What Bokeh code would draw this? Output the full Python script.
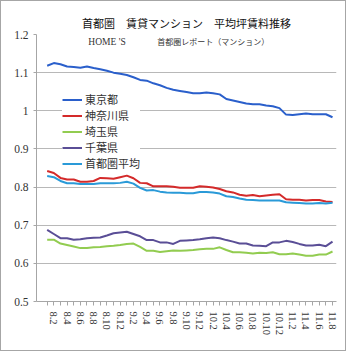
from bokeh.plotting import figure
from bokeh.models import (Range1d, FixedTicker, NumeralTickFormatter, Legend, LegendItem,
                          Label, Title)
from bokeh.embed import file_html
from bokeh.resources import INLINE

months = ["8.1", "8.2", "8.3", "8.4", "8.5", "8.6", "8.7", "8.8", "8.9", "8.10", "8.11", "8.12",
          "9.1", "9.2", "9.3", "9.4", "9.5", "9.6", "9.7", "9.8", "9.9", "9.10", "9.11", "9.12",
          "10.1", "10.2", "10.3", "10.4", "10.5", "10.6", "10.7", "10.8", "10.9", "10.10", "10.11", "10.12",
          "11.1", "11.2", "11.3", "11.4", "11.5", "11.6", "11.7", "11.8"]

tokyo = [1.118, 1.125, 1.122, 1.116, 1.115, 1.113, 1.116, 1.112, 1.109, 1.105,
         1.100, 1.097, 1.094, 1.088, 1.081, 1.079, 1.072, 1.067, 1.060, 1.055,
         1.052, 1.049, 1.046, 1.046, 1.048, 1.046, 1.043, 1.031, 1.027, 1.023,
         1.019, 1.017, 1.017, 1.014, 1.012, 1.007, 0.990, 0.989, 0.991, 0.993,
         0.991, 0.991, 0.991, 0.983]
kanagawa = [0.842, 0.837, 0.824, 0.820, 0.820, 0.814, 0.814, 0.816, 0.824, 0.823,
            0.822, 0.826, 0.830, 0.823, 0.811, 0.810, 0.802, 0.802, 0.802, 0.801,
            0.798, 0.798, 0.798, 0.802, 0.801, 0.799, 0.795, 0.789, 0.786, 0.780,
            0.777, 0.779, 0.776, 0.778, 0.780, 0.781, 0.768, 0.767, 0.767, 0.765,
            0.766, 0.766, 0.762, 0.761]
saitama = [0.662, 0.662, 0.652, 0.648, 0.644, 0.640, 0.640, 0.642, 0.643, 0.645,
           0.646, 0.648, 0.651, 0.652, 0.643, 0.633, 0.633, 0.630, 0.632, 0.634,
           0.633, 0.634, 0.635, 0.637, 0.638, 0.638, 0.642, 0.635, 0.629, 0.629,
           0.628, 0.626, 0.628, 0.627, 0.629, 0.624, 0.624, 0.626, 0.623, 0.620,
           0.620, 0.623, 0.623, 0.631]
chiba = [0.688, 0.677, 0.666, 0.666, 0.662, 0.663, 0.666, 0.667, 0.668, 0.673,
         0.679, 0.681, 0.683, 0.677, 0.671, 0.661, 0.661, 0.655, 0.655, 0.651,
         0.659, 0.660, 0.661, 0.663, 0.666, 0.668, 0.666, 0.661, 0.657, 0.652,
         0.652, 0.647, 0.646, 0.645, 0.655, 0.655, 0.659, 0.656, 0.651, 0.647,
         0.647, 0.649, 0.645, 0.657]
average = [0.829, 0.826, 0.816, 0.810, 0.810, 0.808, 0.808, 0.808, 0.810, 0.810,
           0.810, 0.811, 0.814, 0.809, 0.798, 0.791, 0.792, 0.788, 0.786, 0.785,
           0.785, 0.784, 0.784, 0.787, 0.787, 0.786, 0.783, 0.776, 0.774, 0.770,
           0.767, 0.766, 0.765, 0.765, 0.765, 0.765, 0.760, 0.759, 0.758, 0.757,
           0.757, 0.758, 0.757, 0.759]

series_names = ["東京都", "神奈川県", "埼玉県", "千葉県", "首都圏平均"]
series_values = [tokyo, kanagawa, saitama, chiba, average]
series_colors = ["#2a5fcb", "#d42a2a", "#92cc50", "#5a4e96", "#2a9ad8"]
y_ticks = [0.5, 0.6, 0.7, 0.8, 0.9, 1.0, 1.1, 1.2]

xs = list(range(len(months)))

p = figure(width=346, height=351, output_backend="svg", toolbar_location=None,
           x_range=Range1d(-1.61, 43.6), y_range=Range1d(0.5, 1.2),
           min_border_left=35, min_border_right=11, min_border_top=33, min_border_bottom=51)
p.styles = {"border": "1px solid #a6a6a6"}
p.outline_line_color = None
p.background_fill_color = "white"
p.border_fill_color = "white"

p.add_layout(Title(text="首都圏　賃貸マンション　平均坪賃料推移", align="center",
                   text_font="Noto Sans CJK JP", text_font_size="11px",
                   text_font_style="normal", text_color="#111111", standoff=8), "above")

renderers = []
for name, vals, col in zip(series_names, series_values, series_colors):
    r = p.line(xs, vals, line_color=col, line_width=2)
    renderers.append((name, r))

legend = Legend(items=[LegendItem(label=n, renderers=[r]) for n, r in renderers],
                location=(26, 130), orientation="vertical")
legend.label_text_font = "Noto Sans CJK JP"
legend.label_text_font_size = "11px"
legend.label_text_color = "#333333"
legend.glyph_width = 20
legend.glyph_height = 15
legend.label_height = 15
legend.spacing = 0
legend.padding = 8
legend.margin = 0
legend.label_standoff = 3
legend.border_line_color = None
legend.background_fill_color = "white"
legend.background_fill_alpha = 1.0
p.add_layout(legend, "center")

# y axis
p.yaxis.ticker = FixedTicker(ticks=y_ticks)
p.yaxis.formatter = NumeralTickFormatter(format="0.[0]")
p.yaxis.major_label_text_font = "Liberation Serif"
p.yaxis.major_label_text_font_size = "11.5px"
p.yaxis.major_label_text_color = "#333333"
p.yaxis.axis_line_color = "#a6a6a6"
p.yaxis.major_tick_line_color = "#a6a6a6"
p.yaxis.major_tick_out = 3
p.yaxis.major_tick_in = 0
p.yaxis.minor_tick_line_color = None
p.yaxis.major_label_standoff = 5

# x axis
p.xaxis.ticker = FixedTicker(ticks=xs)
p.xaxis.major_label_overrides = {i: (m if i % 2 == 1 else "") for i, m in enumerate(months)}
p.xaxis.major_label_orientation = "vertical"
p.xaxis.major_label_text_font = "Liberation Serif"
p.xaxis.major_label_text_font_size = "10.5px"
p.xaxis.major_label_text_color = "#333333"
p.xaxis.axis_line_color = "#a6a6a6"
p.xaxis.major_tick_line_color = "#a6a6a6"
p.xaxis.major_tick_out = 4
p.xaxis.major_tick_in = 0
p.xaxis.minor_tick_line_color = None
p.xaxis.major_label_standoff = 6

p.xgrid.grid_line_color = None
p.ygrid.grid_line_color = "#b8b8b8"
p.ygrid.grid_line_width = 1

p.add_layout(Label(x=6.2, y=1.181, text="HOME 'S", text_font="Liberation Serif",
                   text_font_size="9.5px", text_color="#333333", text_baseline="middle"))
p.add_layout(Label(x=16.6, y=1.181, text="首都圏レポート（マンション）", text_font="Noto Sans CJK JP",
                   text_font_size="8px", text_color="#333333", text_baseline="middle"))

open("out.html", "w").write(file_html(p, INLINE))
